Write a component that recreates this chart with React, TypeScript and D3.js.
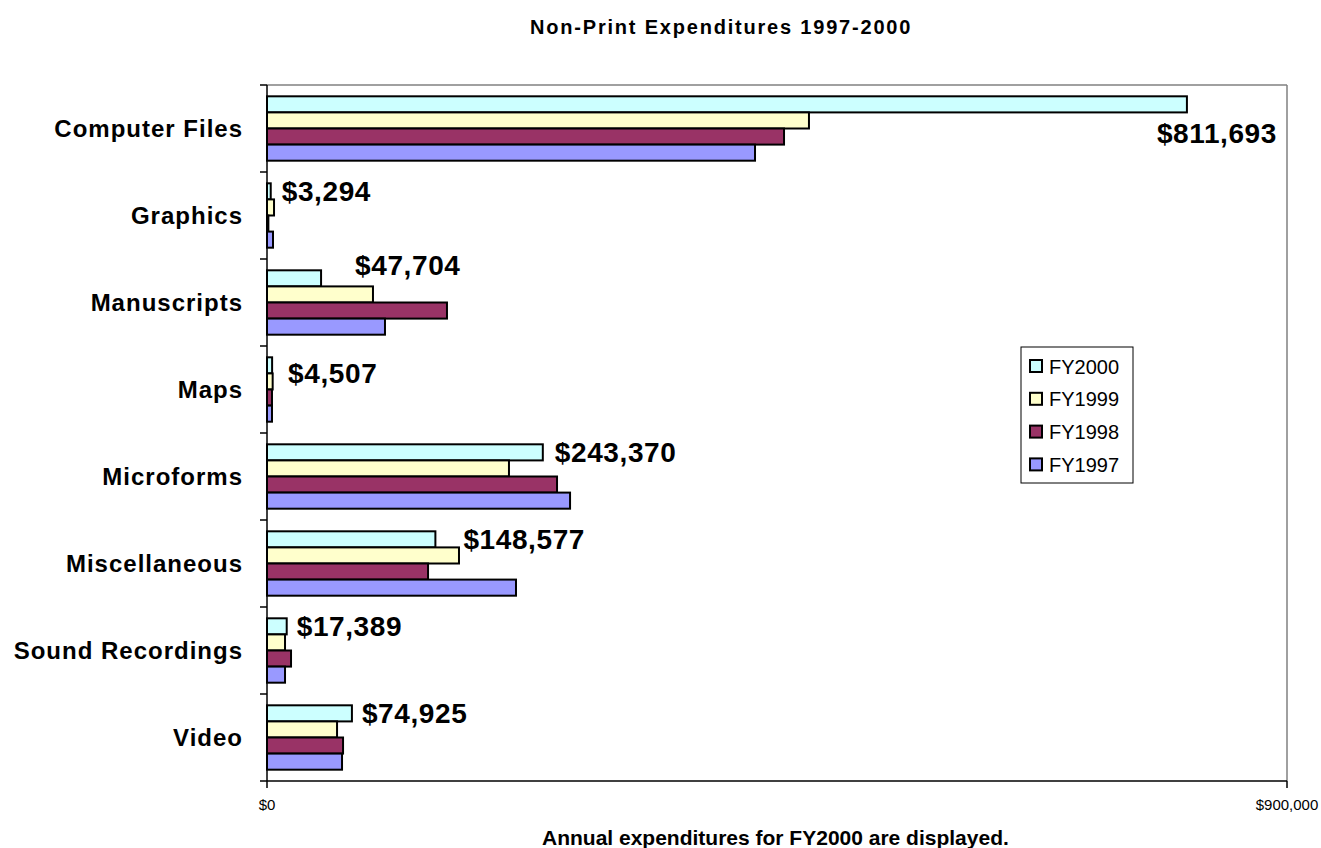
import React from "react";
import * as d3 from "d3";

const categories = [
  "Computer Files",
  "Graphics",
  "Manuscripts",
  "Maps",
  "Microforms",
  "Miscellaneous",
  "Sound Recordings",
  "Video",
];
const seriesNames = ["FY2000", "FY1999", "FY1998", "FY1997"];
const fy2000 = [811693, 3294, 47704, 4507, 243370, 148577, 17389, 74925];
const fy1999 = [478200, 6200, 93500, 5000, 213500, 169400, 15900, 61800];
const fy1998 = [456200, 1200, 158800, 4400, 255900, 142100, 21200, 67100];
const fy1997 = [430600, 5300, 104100, 4400, 267400, 219700, 15900, 66200];
const seriesValues = [fy2000, fy1999, fy1998, fy1997];
const seriesColors = ["#CCFFFF", "#FFFFCC", "#993366", "#9999FF"];
const xTicks = [0, 900000];
const labelNudge: [number, number][] = [
  [-40, 29],
  [1, 0],
  [24, -13],
  [6, 8],
  [2, 0],
  [18, 0],
  [0, 0],
  [0, 0],
];

const W = 1321;
const H = 848;
const left = 267;
const right = 1287;
const top = 85;
const bottom = 781;

export default function App() {
  const x = d3.scaleLinear().domain([0, 900000]).range([left, right]);
  const y = d3
    .scaleBand<string>()
    .domain(categories)
    .range([top, bottom])
    .paddingInner(0.26)
    .paddingOuter(0.13);
  const inner = d3.scaleBand<string>().domain(seriesNames).range([0, y.bandwidth()]);
  const fmt = d3.format(",");
  const font = "'Liberation Sans', Arial, sans-serif";
  const step = (bottom - top) / categories.length;

  return (
    <svg width={W} height={H} style={{ position: "absolute", left: 0, top: 0, fontFamily: font }}>
      <rect x={0} y={0} width={W} height={H} fill="#fff" />
      <text x={530} y={34} fontSize={20} fontWeight="bold" letterSpacing={1.8}>
        Non-Print Expenditures 1997-2000
      </text>
      {/* plot frame */}
      <line x1={left} x2={right} y1={top} y2={top} stroke="#808080" strokeWidth={1.5} />
      <line x1={right} x2={right} y1={top} y2={bottom} stroke="#808080" strokeWidth={1.5} />
      {/* bars */}
      {categories.map((c, i) =>
        seriesNames.map((s, j) => (
          <rect
            key={c + s}
            x={x(0)}
            y={(y(c) as number) + (inner(s) as number)}
            width={x(seriesValues[j][i]) - x(0)}
            height={inner.bandwidth()}
            fill={seriesColors[j]}
            stroke="#000"
            strokeWidth={2}
          />
        ))
      )}
      {/* axes */}
      <line x1={left} x2={left} y1={top} y2={bottom} stroke="#000" strokeWidth={1.5} />
      <line x1={left} x2={right} y1={bottom} y2={bottom} stroke="#000" strokeWidth={1.5} />
      {d3.range(categories.length + 1).map((k) => (
        <line
          key={"t" + k}
          x1={left - 7}
          x2={left}
          y1={top + k * step}
          y2={top + k * step}
          stroke="#000"
          strokeWidth={1.5}
        />
      ))}
      {xTicks.map((t) => (
        <g key={"x" + t}>
          <line x1={x(t)} x2={x(t)} y1={bottom} y2={bottom + 7} stroke="#000" strokeWidth={1.5} />
          <text x={x(t)} y={810} textAnchor="middle" fontSize={15}>
            ${fmt(t)}
          </text>
        </g>
      ))}
      {/* category labels */}
      {categories.map((c) => (
        <text
          key={"c" + c}
          x={243}
          y={(y(c) as number) + y.bandwidth() / 2}
          dy="0.35em"
          textAnchor="end"
          fontSize={24}
          fontWeight="bold"
          letterSpacing={1}
        >
          {c}
        </text>
      ))}
      {/* value labels */}
      {categories.map((c, i) => (
        <text
          key={"v" + c}
          x={x(fy2000[i]) + 10 + labelNudge[i][0]}
          y={(y(c) as number) + (inner("FY2000") as number) + inner.bandwidth() / 2 + labelNudge[i][1]}
          dy="0.35em"
          fontSize={28}
          fontWeight="bold"
          letterSpacing={0.6}
        >
          ${fmt(fy2000[i])}
        </text>
      ))}
      {/* legend */}
      <rect x={1021} y={347} width={112} height={136} fill="#fff" stroke="#000" strokeWidth={1} />
      {seriesNames.map((s, j) => (
        <g key={"l" + s}>
          <rect
            x={1030}
            y={360 + j * 32.8}
            width={12}
            height={12}
            fill={seriesColors[j]}
            stroke="#000"
            strokeWidth={2}
          />
          <text x={1049} y={366.5 + j * 32.8} dy="0.35em" fontSize={20}>
            {s}
          </text>
        </g>
      ))}
      <text x={542} y={845} fontSize={21} fontWeight="bold">
        Annual expenditures for FY2000 are displayed.
      </text>
    </svg>
  );
}
